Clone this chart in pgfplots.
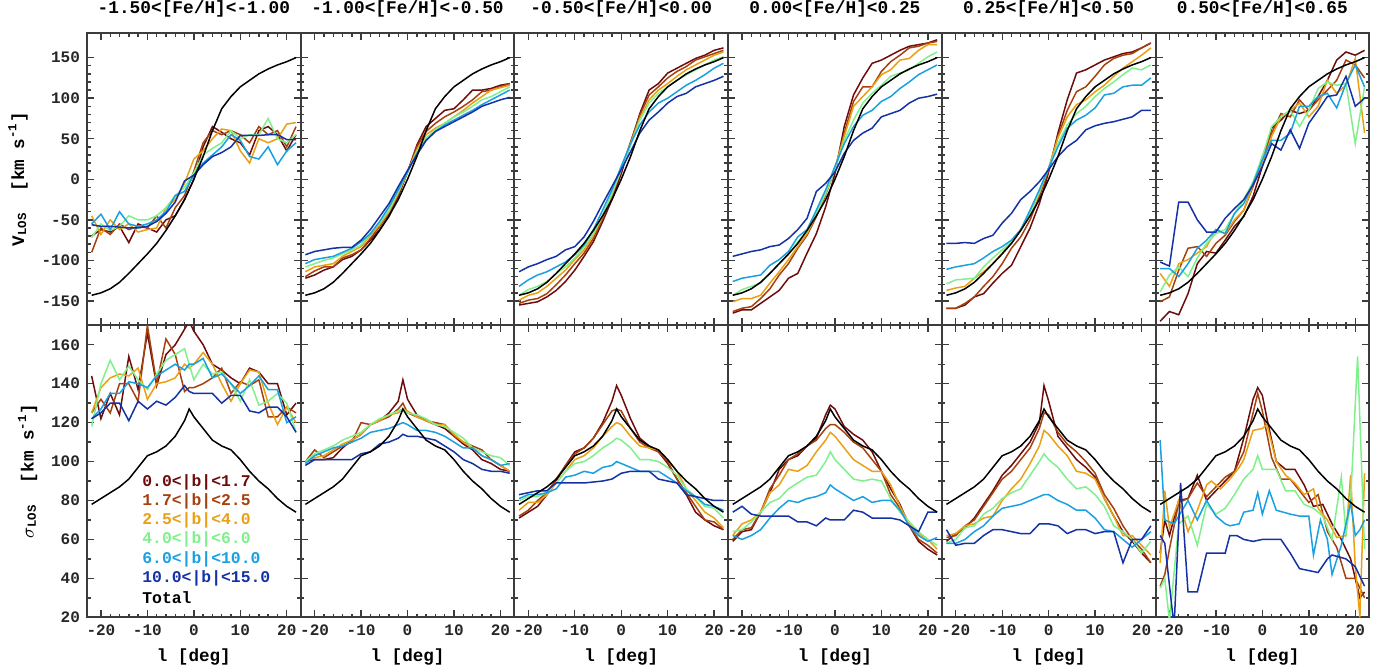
\documentclass[border=0pt]{standalone}
\usepackage{fontspec}
\setmainfont{Liberation Mono}
\usepackage{pgfplots}
\usepackage{pgfplotstable}
\pgfplotsset{compat=1.18}

\definecolor{c0}{RGB}{110,12,12}
\definecolor{c1}{RGB}{165,65,15}
\definecolor{c2}{RGB}{235,160,20}
\definecolor{c3}{RGB}{128,240,140}
\definecolor{c4}{RGB}{25,160,225}
\definecolor{c5}{RGB}{20,50,165}
\definecolor{axgray}{RGB}{60,60,60}

% ---------- totals ----------
\pgfplotstableread[row sep=\\]{
l t\\ -22 -143\\ -20 -140\\ -18 -135\\ -16 -127\\ -14 -116\\ -12 -104\\ -10 -92\\ -8 -79\\ -6 -63\\ -4 -45\\ -2 -25\\ 0 0\\ 2 28\\ 4 60\\ 6 87\\ 8 102\\ 10 114\\ 12 122\\ 14 130\\ 16 136\\ 18 141\\ 20 145\\ 22 150\\
}\TV
\pgfplotstableread[row sep=\\]{
l t\\ -22 78\\ -20 81\\ -18 84\\ -16 87\\ -14 91\\ -12 97\\ -10 103\\ -8 105\\ -6 108\\ -4 113\\ -2 121\\ -1 127\\ 0 123\\ 2 117\\ 4 111\\ 6 108\\ 8 106\\ 10 101\\ 12 95\\ 14 90\\ 16 86\\ 18 81\\ 20 77\\ 22 74\\
}\TS

% ---------- velocity panels ----------
\pgfplotstableread[row sep=\\]{
l a b c d e f\\
-22 -70 -90 -45 -72 -55 -56\\
-20 -62 -60 -68 -55 -43 -58\\
-18 -65 -68 -50 -63 -62 -58\\
-16 -58 -55 -62 -58 -40 -59\\
-14 -78 -62 -55 -45 -55 -60\\
-12 -55 -58 -65 -50 -58 -60\\
-10 -60 -60 -62 -50 -55 -58\\
-8 -65 -45 -60 -45 -50 -52\\
-6 -50 -60 -35 -35 -40 -42\\
-4 -45 -35 -25 -20 -20 -28\\
-2 -25 -20 -5 -10 -15 -2\\
0 0 10 25 8 5 5\\
2 40 45 35 30 20 18\\
4 65 60 50 38 30 28\\
6 58 55 62 45 40 33\\
8 50 60 60 60 55 40\\
10 45 55 35 50 48 54\\
12 30 45 20 55 28 54\\
14 60 65 50 55 25 54\\
16 65 55 45 75 40 55\\
18 55 60 50 50 18 55\\
20 35 40 68 45 35 49\\
22 55 65 70 55 45 49\\
}\PaV
\pgfplotstableread[row sep=\\]{
l a b c d e f\\
-22 -122 -120 -114 -108 -104 -93\\
-20 -118 -113 -108 -104 -99 -89\\
-18 -112 -108 -106 -100 -97 -87\\
-16 -108 -108 -104 -97 -95 -85\\
-14 -99 -97 -95 -92 -90 -84\\
-12 -95 -93 -89 -87 -85 -84\\
-10 -87 -87 -83 -81 -77 -75\\
-8 -75 -73 -69 -67 -67 -62\\
-6 -62 -58 -56 -54 -52 -46\\
-4 -46 -42 -40 -38 -34 -30\\
-2 -21 -19 -17 -15 -13 -9\\
0 9 9 9 9 9 11\\
2 42 40 36 34 32 30\\
4 65 59 55 51 48 48\\
6 75 69 63 61 59 59\\
8 85 77 69 69 67 65\\
10 87 83 77 77 73 71\\
12 98 90 85 83 79 77\\
14 110 98 94 90 85 83\\
16 110 108 102 98 92 90\\
18 112 110 110 102 98 94\\
20 116 114 113 108 104 98\\
22 118 118 116 114 110 101\\
}\PbV
\pgfplotstableread[row sep=\\]{
l a b c d e f\\
-22 -155 -153 -149 -143 -132 -114\\
-20 -153 -149 -143 -136 -124 -108\\
-18 -151 -147 -140 -132 -118 -104\\
-16 -145 -141 -132 -126 -114 -99\\
-14 -137 -130 -122 -116 -108 -95\\
-12 -126 -118 -112 -108 -102 -87\\
-10 -112 -104 -99 -97 -93 -83\\
-8 -95 -91 -87 -83 -81 -71\\
-6 -77 -73 -69 -67 -62 -52\\
-4 -52 -48 -46 -44 -38 -30\\
-2 -25 -21 -19 -17 -13 -9\\
0 7 12 12 12 16 12\\
2 44 46 44 42 44 34\\
4 81 79 75 73 67 57\\
6 110 104 98 94 83 73\\
8 118 114 110 106 94 83\\
10 131 125 118 114 100 94\\
12 137 133 127 122 108 102\\
14 143 139 135 129 116 106\\
16 149 147 141 135 122 114\\
18 153 151 147 141 129 118\\
20 159 155 153 147 137 122\\
22 162 159 157 151 143 127\\
}\PcV
\pgfplotstableread[row sep=\\]{
l a b c d e f\\
-22 -165 -163 -151 -143 -126 -95\\
-20 -161 -159 -147 -136 -122 -92\\
-18 -161 -157 -147 -132 -120 -89\\
-16 -153 -147 -143 -128 -118 -87\\
-14 -145 -135 -128 -116 -106 -83\\
-12 -137 -118 -114 -104 -99 -81\\
-10 -122 -104 -99 -93 -89 -73\\
-8 -116 -85 -83 -77 -71 -62\\
-6 -91 -69 -67 -64 -62 -48\\
-4 -67 -46 -44 -42 -38 -15\\
-2 -34 -19 -17 -17 -13 -5\\
0 7 12 14 12 16 9\\
2 65 57 53 48 44 32\\
4 104 96 90 73 65 48\\
6 125 114 102 94 79 57\\
8 143 114 114 106 85 63\\
10 147 133 129 116 96 77\\
12 153 145 135 127 102 81\\
14 159 153 147 131 112 85\\
16 164 162 149 135 120 94\\
18 166 164 159 143 129 100\\
20 168 168 166 151 135 102\\
22 172 170 166 157 141 105\\
}\PdV
\pgfplotstableread[row sep=\\]{
l a b c d e f\\
-22 -159 -159 -137 -129 -111 -79\\
-20 -159 -159 -134 -124 -108 -79\\
-18 -155 -153 -132 -123 -106 -78\\
-16 -145 -145 -122 -122 -104 -79\\
-14 -141 -132 -114 -108 -97 -73\\
-12 -128 -120 -104 -97 -89 -69\\
-10 -116 -104 -91 -87 -83 -54\\
-8 -106 -85 -77 -77 -75 -42\\
-6 -83 -71 -62 -62 -62 -25\\
-4 -60 -50 -42 -42 -38 -15\\
-2 -30 -21 -17 -15 -13 -3\\
0 9 12 14 14 14 12\\
2 57 53 51 44 40 28\\
4 98 85 77 67 63 40\\
6 131 108 92 81 73 48\\
8 135 114 98 90 79 61\\
10 141 127 108 102 88 66\\
12 147 141 116 112 104 69\\
14 151 149 127 120 106 71\\
16 155 153 137 129 114 74\\
18 157 155 145 137 116 77\\
20 162 162 153 135 116 85\\
22 168 168 162 141 125 85\\
}\PeV
\pgfplotstableread[row sep=\\]{
l a b c d e f\\
-22 -175 -151 -116 -139 -110 -102\\
-20 -163 -145 -132 -118 -110 -107\\
-18 -167 -112 -104 -108 -120 -28\\
-16 -141 -85 -99 -120 -104 -28\\
-14 -104 -83 -91 -97 -85 -50\\
-12 -89 -95 -83 -79 -75 -65\\
-10 -91 -79 -62 -67 -62 -65\\
-8 -75 -69 -67 -62 -67 -48\\
-6 -58 -52 -50 -42 -42 -36\\
-4 -46 -38 -38 -25 -30 -25\\
-2 -21 -9 -7 -3 -5 -7\\
0 16 28 20 28 24 16\\
2 63 57 53 65 48 44\\
4 73 81 77 77 48 36\\
6 85 77 85 85 57 61\\
8 81 98 94 65 90 38\\
10 85 85 77 85 90 69\\
12 102 98 90 112 102 85\\
14 122 110 122 120 106 102\\
16 147 122 106 116 88 104\\
18 157 147 116 118 118 127\\
20 153 141 149 44 141 90\\
22 159 125 57 114 114 100\\
}\PfV

% ---------- dispersion panels ----------
\pgfplotstableread[row sep=\\]{
l a b c d e f\\
-22 144 125 125 118 122 122\\
-20 122 132 138 140 127 125\\
-18 135 125 143 152 135 130\\
-16 124 140 145 142 135 130\\
-14 154 140 144 149 141 121\\
-12 137 131 148 142 140 131\\
-10 166 170 132 137 138 127\\
-8 139 140 140 145 144 131\\
-6 155 163 141 152 147 129\\
-4 160 155 143 155 150 133\\
-2 168 136 150 158 147 139\\
-1 172 138 148 150 150 136\\
0 167 138 150 142 150 135\\
2 160 140 156 150 153 135\\
4 150 143 150 145 143 135\\
6 147 148 140 146 145 130\\
8 143 135 131 140 140 134\\
10 140 141 140 131 135 134\\
12 148 139 147 142 139 126\\
14 146 142 146 129 144 125\\
16 140 123 130 131 137 128\\
18 140 123 119 135 137 128\\
20 124 128 128 130 120 123\\
22 130 125 120 115 123 115\\
}\PaS
\pgfplotstableread[row sep=\\]{
l a b c d e f\\
-22 100 100 100 100 99 98\\
-20 101 106 102 104 103 101\\
-18 101 102 103 106 105 101\\
-16 102 105 106 108 107 101\\
-14 107 108 109 111 108 101\\
-12 111 110 111 113 110 101\\
-10 114 120 114 115 112 104\\
-8 119 119 119 119 115 105\\
-6 121 121 121 122 116 109\\
-4 125 123 124 124 117 110\\
-2 131 127 125 126 119 112\\
-1 142 130 127 127 120 114\\
0 132 125 126 125 119 113\\
2 124 123 123 124 116 113\\
4 121 121 121 122 116 112\\
6 119 120 119 119 115 111\\
8 117 119 119 118 113 108\\
10 113 113 114 115 110 105\\
12 109 110 110 112 107 101\\
14 106 108 107 107 107 99\\
16 101 106 103 105 103 96\\
18 99 101 101 103 101 95\\
20 96 98 98 102 98 95\\
22 95 95 95 98 99 94\\
}\PbS
\pgfplotstableread[row sep=\\]{
l a b c d e f\\
-22 71 72 75 80 81 83\\
-20 74 75 79 82 83 84\\
-18 77 80 79 82 83 85\\
-16 83 84 83 84 84 85\\
-14 90 91 89 89 86 89\\
-12 98 98 95 95 92 89\\
-10 105 104 101 99 93 89\\
-8 107 107 103 100 95 89\\
-6 112 112 107 103 94 89.5\\
-4 120 119 113 107 97 90\\
-2 131 126 118 110 98 91\\
-1 139 127 120 112 100 92.5\\
0 134 126 119 111 99 94\\
2 122 117 113 107 97 95\\
4 112 110 108 101 95 95\\
6 108 107 107 101 95 95\\
8 105 105 106 100 95 91\\
10 99 100 101 97 92 90\\
12 91 91 95 93 89 89\\
14 83 84 86 86 85 83\\
16 74 77 80 82 82 82\\
18 70 70 74 77 78 81\\
20 67 69 71 76 77 80\\
22 65 65 66 71 75 80\\
}\PcS
\pgfplotstableread[row sep=\\]{
l a b c d e f\\
-22 59 60 62 64 62 74\\
-20 64 65 68 65 60 77\\
-18 65 66 70 69 62 73\\
-16 74 74 74 74 65 72\\
-14 84 86 84 79 71 72\\
-12 96 93 88 81 76 72\\
-10 101 101 96 86 80 72\\
-8 103 104 95 89 79 69\\
-6 108 108 98 92 81 69\\
-4 112 111 105 93 82 67\\
-2 124 117 111 100 84 71\\
-1 129 119 115 105 88 70\\
0 127 119 113 101 86 70\\
2 118 115 107 96 83 70\\
4 114 110 101 91 80 75\\
6 111 107 98 90 82 74\\
8 105 101 95 91 79 71\\
10 95 95 95 90 80 71\\
12 86 83 88 81 80 71\\
14 78 76 77 74 75 70\\
16 67 67 68 69 67 67\\
18 59 60 63 64 62 64\\
20 55 57 60 60 59 74\\
22 52 53 55 57 61 74\\
}\PdS
\pgfplotstableread[row sep=\\]{
l a b c d e f\\
-22 59 61 62 58 58 65\\
-20 63 62 63 60 58 57\\
-18 66 67 67 66 60 58\\
-16 71 70 68 67 64 58\\
-14 78 77 71 73 67 62\\
-12 85 84 72 76 72 65\\
-10 93 91 80 81 76 65\\
-8 98 95 86 84 77 64\\
-6 104 101 91 86 78 63\\
-4 110 107 99 93 80 63\\
-2 120 117 108 100 82 68\\
-1 139 125 116 104 83 68\\
0 131 124 114 101 83 68\\
2 113 115 108 97 80 67\\
4 107 109 103 91 78 63\\
6 101 105 95 86 75 65\\
8 97 100 94 87 75 65\\
10 92 94 91 83 71 63\\
12 81 83 81 77 65 64\\
14 72 76 72 67 64 64\\
16 64 67 62 64 60 48\\
18 59 60 62 60 56 60\\
20 53 55 57 53 60 60\\
22 48 48 52 59 64 67\\
}\PeS

\pgfplotsset{
  panel/.style={
    scale only axis, width=106.85pt, height=146pt,
    anchor=south west,
    xmin=-23, xmax=23, xtick={-20,-10,0,10,20}, minor x tick num=4,
    axis line style={line width=1pt, draw=axgray},
    every tick/.style={axgray, line width=0.7pt},
    major tick length=3.5pt, minor tick length=1.8pt,
    tick align=inside,
    ticklabel style={font=\fontsize{8}{9}\selectfont\bfseries, text=black!85},
    /pgf/number format/assume math mode=true,
    label style={font=\fontsize{8.8}{10}\selectfont\bfseries},
    title style={font=\fontsize{8.9}{10}\selectfont\bfseries,
      at={(0.5,1)}, anchor=base, yshift=4pt},
    every axis plot/.append style={line width=0.75pt, mark=none},
  },
  toprow/.style={panel, ymin=-180, ymax=180, ytick={-150,-100,-50,0,50,100,150},
    minor y tick num=4, xticklabels={}},
  botrow/.style={panel, ymin=20, ymax=170, ytick={20,40,60,80,100,120,140,160},
    minor y tick num=1, xlabel={l [deg]}},
  inner/.style={yticklabels={}},
}

\newcommand{\drawlines}[2]{%
  \addplot[c0] table[x=l,y=a]{#1};
  \addplot[c1] table[x=l,y=b]{#1};
  \addplot[c2] table[x=l,y=c]{#1};
  \addplot[c3] table[x=l,y=d]{#1};
  \addplot[c4] table[x=l,y=e]{#1};
  \addplot[c5] table[x=l,y=f]{#1};
  \addplot[black] table[x=l,y=t]{#2};
}

\begin{document}
\begin{tikzpicture}
\useasboundingbox (0pt,0pt) rectangle (688pt,332pt);

% ---------------- top row ----------------
\begin{axis}[toprow, at={(43.5pt,169.35pt)}, title={-1.50<[Fe/H]<-1.00},
  ylabel={V\textsubscript{LOS}\ \ [km s\textsuperscript{-1}]}]
\drawlines{\PaV}{\TV}
\end{axis}
\begin{axis}[toprow, inner, at={(150.35pt,169.35pt)}, title={-1.00<[Fe/H]<-0.50}]
\drawlines{\PbV}{\TV}
\end{axis}
\begin{axis}[toprow, inner, at={(257.2pt,169.35pt)}, title={-0.50<[Fe/H]<0.00}]
\drawlines{\PcV}{\TV}
\end{axis}
\begin{axis}[toprow, inner, at={(364.05pt,169.35pt)}, title={0.00<[Fe/H]<0.25}]
\drawlines{\PdV}{\TV}
\end{axis}
\begin{axis}[toprow, inner, at={(470.9pt,169.35pt)}, title={0.25<[Fe/H]<0.50}]
\drawlines{\PeV}{\TV}
\end{axis}
\begin{axis}[toprow, inner, at={(577.75pt,169.35pt)}, title={0.50<[Fe/H]<0.65}]
\drawlines{\PfV}{\TV}
\end{axis}

% ---------------- bottom row ----------------
\begin{axis}[botrow, at={(43.5pt,23.35pt)},
  ylabel={$\sigma$\textsubscript{LOS}\ \ [km s\textsuperscript{-1}]}]
\drawlines{\PaS}{\TS}
\begin{scope}[font=\fontsize{8.2}{9}\selectfont\bfseries]
\node[anchor=west, text=c0] at (axis cs:-12.6,89.5) {0.0<|b|<1.7};
\node[anchor=west, text=c1] at (axis cs:-12.6,79.6) {1.7<|b|<2.5};
\node[anchor=west, text=c2] at (axis cs:-12.6,69.7) {2.5<|b|<4.0};
\node[anchor=west, text=c3] at (axis cs:-12.6,59.8) {4.0<|b|<6.0};
\node[anchor=west, text=c4] at (axis cs:-12.6,49.9) {6.0<|b|<10.0};
\node[anchor=west, text=c5] at (axis cs:-12.6,40.0) {10.0<|b|<15.0};
\node[anchor=west, text=black] at (axis cs:-12.6,30.1) {Total};
\end{scope}
\end{axis}
\begin{axis}[botrow, inner, at={(150.35pt,23.35pt)}]
\drawlines{\PbS}{\TS}
\end{axis}
\begin{axis}[botrow, inner, at={(257.2pt,23.35pt)}]
\drawlines{\PcS}{\TS}
\end{axis}
\begin{axis}[botrow, inner, at={(364.05pt,23.35pt)}]
\drawlines{\PdS}{\TS}
\end{axis}
\begin{axis}[botrow, inner, at={(470.9pt,23.35pt)}]
\drawlines{\PeS}{\TS}
\end{axis}
\begin{axis}[botrow, inner, at={(577.75pt,23.35pt)}]
\addplot[c0] coordinates {(-22,53) (-21,70) (-20,62) (-18,80) (-16,81) (-14,93) (-12,80) (-10,85) (-8,90) (-6,95) (-4,112) (-2,132) (-1,138) (0,134) (1,122) (3,100) (5,96) (7,96) (9,88) (11,77) (13,78) (15,68) (17,60) (19,50) (21,30) (22,33)};
\addplot[c1] coordinates {(-22,36) (-21,42) (-20,55) (-18,79) (-16,81) (-14,89) (-12,82) (-10,87) (-8,92) (-6,95) (-4,105) (-2,125) (-1,135) (0,126) (2,102) (4,91) (6,91) (8,85) (10,79) (12,83) (14,64) (16,56) (18,40) (20,40) (22,30)};
\addplot[c2] coordinates {(-22,48) (-21,85) (-20,66) (-18,80) (-16,64) (-14,75) (-12,88) (-11,90) (-9,86) (-7,91) (-5,97) (-4,101) (-2,116) (0,117) (1,119) (3,100) (5,93) (7,89) (9,83) (11,86) (12,76) (14,70) (16,61) (18,62) (19,93) (20,46) (21,20) (22,94)};
\addplot[c3] coordinates {(-22,35) (-21,40) (-20,18) (-18,68) (-16,72) (-14,57) (-12,78) (-10,73) (-8,76) (-6,83) (-4,91) (-2,96) (-1,103) (0,96) (1,96) (3,96) (5,85) (7,85) (9,78) (11,76) (13,72) (15,60) (17,92) (18,63) (19,80) (20.5,154) (22,55)};
\addplot[c4] coordinates {(-22,111) (-21,70) (-19,68) (-18,72) (-16,80) (-14,70) (-12,80) (-10,72) (-8,68) (-7,67) (-5,68) (-4,74) (-2,75) (-1,84) (0,73) (1.5,85) (3,75) (6,73) (8,72) (10,72) (11,52) (12.5,70) (14,60) (15,42) (17,57) (19,79) (20,62) (21,65) (22,70)};
\addplot[c5] coordinates {(-22,62) (-21,58) (-19,15) (-17.6,89) (-16,33) (-14,33) (-12,53) (-10,53) (-8,53) (-7,62) (-5.5,62) (-4,60) (-2,59) (0,60) (2,60) (4,60) (6,53) (8,45) (10,44) (12,43) (14,50) (15,52) (18,50) (20,46) (22,36)};
\addplot[black] table[x=l,y=t]{\TS};
\end{axis}
\end{tikzpicture}
\end{document}
